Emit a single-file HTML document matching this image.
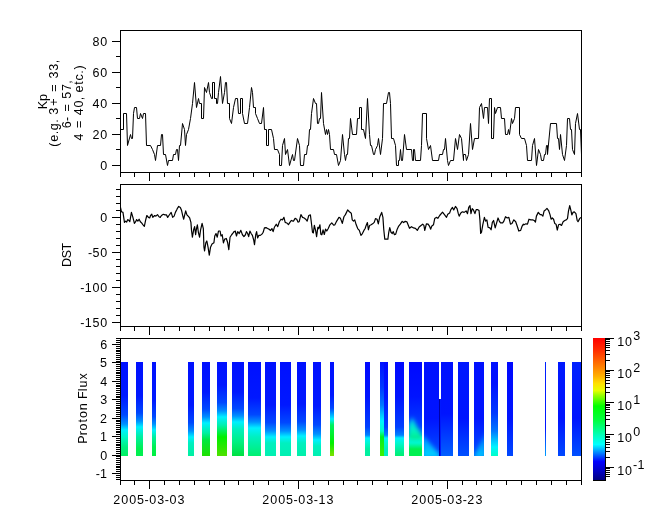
<!DOCTYPE html>
<html><head><meta charset="utf-8"><style>html,body{margin:0;padding:0;background:#fff;overflow:hidden}svg{will-change:transform}</style></head><body>
<svg width="665" height="523" viewBox="0 0 665 523" style="display:block">
<defs>
<linearGradient id="g0" x1="0" y1="0" x2="0" y2="1"><stop offset="0.000" stop-color="#0010ff"/><stop offset="0.362" stop-color="#0018ff"/><stop offset="0.561" stop-color="#0048ff"/><stop offset="0.660" stop-color="#0090ff"/><stop offset="0.723" stop-color="#00f0ff"/><stop offset="0.798" stop-color="#00f8c8"/><stop offset="0.904" stop-color="#00f080"/><stop offset="1.000" stop-color="#00f060"/></linearGradient>
<linearGradient id="g1" x1="0" y1="0" x2="0" y2="1"><stop offset="0.000" stop-color="#0010ff"/><stop offset="0.362" stop-color="#0018ff"/><stop offset="0.543" stop-color="#0048ff"/><stop offset="0.628" stop-color="#0090ff"/><stop offset="0.691" stop-color="#00f0ff"/><stop offset="0.798" stop-color="#00f0a0"/><stop offset="0.926" stop-color="#00f050"/><stop offset="1.000" stop-color="#00f050"/></linearGradient>
<linearGradient id="g2" x1="0" y1="0" x2="0" y2="1"><stop offset="0.000" stop-color="#0010ff"/><stop offset="0.404" stop-color="#0018ff"/><stop offset="0.580" stop-color="#0048ff"/><stop offset="0.660" stop-color="#0090ff"/><stop offset="0.723" stop-color="#00f0ff"/><stop offset="0.798" stop-color="#00f0a0"/><stop offset="0.904" stop-color="#00f050"/><stop offset="1.000" stop-color="#00f040"/></linearGradient>
<linearGradient id="g3" x1="0" y1="0" x2="0" y2="1"><stop offset="0.000" stop-color="#0010ff"/><stop offset="0.457" stop-color="#0018ff"/><stop offset="0.645" stop-color="#0048ff"/><stop offset="0.734" stop-color="#0090ff"/><stop offset="0.798" stop-color="#00f0ff"/><stop offset="0.862" stop-color="#00f0c0"/><stop offset="1.000" stop-color="#00f0a0"/></linearGradient>
<linearGradient id="g4" x1="0" y1="0" x2="0" y2="1"><stop offset="0.000" stop-color="#0010ff"/><stop offset="0.319" stop-color="#0018ff"/><stop offset="0.501" stop-color="#0048ff"/><stop offset="0.585" stop-color="#0090ff"/><stop offset="0.649" stop-color="#00f0ff"/><stop offset="0.755" stop-color="#00f0a0"/><stop offset="0.830" stop-color="#00e840"/><stop offset="1.000" stop-color="#20e000"/></linearGradient>
<linearGradient id="g5" x1="0" y1="0" x2="0" y2="1"><stop offset="0.000" stop-color="#0010ff"/><stop offset="0.245" stop-color="#0018ff"/><stop offset="0.432" stop-color="#0048ff"/><stop offset="0.521" stop-color="#0090ff"/><stop offset="0.585" stop-color="#00f0ff"/><stop offset="0.670" stop-color="#00f0b0"/><stop offset="0.798" stop-color="#00f000"/><stop offset="1.000" stop-color="#50e000"/></linearGradient>
<linearGradient id="g6" x1="0" y1="0" x2="0" y2="1"><stop offset="0.000" stop-color="#0010ff"/><stop offset="0.319" stop-color="#0018ff"/><stop offset="0.495" stop-color="#0048ff"/><stop offset="0.574" stop-color="#0090ff"/><stop offset="0.638" stop-color="#00f0ff"/><stop offset="0.713" stop-color="#00f0c0"/><stop offset="0.851" stop-color="#00f080"/><stop offset="1.000" stop-color="#00e040"/></linearGradient>
<linearGradient id="g7" x1="0" y1="0" x2="0" y2="1"><stop offset="0.000" stop-color="#0010ff"/><stop offset="0.383" stop-color="#0018ff"/><stop offset="0.559" stop-color="#0048ff"/><stop offset="0.638" stop-color="#0090ff"/><stop offset="0.702" stop-color="#00f0ff"/><stop offset="0.798" stop-color="#00f0c0"/><stop offset="1.000" stop-color="#00f070"/></linearGradient>
<linearGradient id="g8" x1="0" y1="0" x2="0" y2="1"><stop offset="0.000" stop-color="#0010ff"/><stop offset="0.457" stop-color="#0018ff"/><stop offset="0.645" stop-color="#0048ff"/><stop offset="0.734" stop-color="#0090ff"/><stop offset="0.798" stop-color="#00f0ff"/><stop offset="0.862" stop-color="#00f0c0"/><stop offset="1.000" stop-color="#00f0b0"/></linearGradient>
<linearGradient id="g9" x1="0" y1="0" x2="0" y2="1"><stop offset="0.000" stop-color="#0010ff"/><stop offset="0.457" stop-color="#0018ff"/><stop offset="0.645" stop-color="#0048ff"/><stop offset="0.734" stop-color="#0090ff"/><stop offset="0.798" stop-color="#00f0ff"/><stop offset="0.862" stop-color="#00f0c0"/><stop offset="1.000" stop-color="#00f0b0"/></linearGradient>
<linearGradient id="g10" x1="0" y1="0" x2="0" y2="1"><stop offset="0.000" stop-color="#0010ff"/><stop offset="0.447" stop-color="#0018ff"/><stop offset="0.634" stop-color="#0048ff"/><stop offset="0.723" stop-color="#0090ff"/><stop offset="0.787" stop-color="#00f0ff"/><stop offset="0.862" stop-color="#00f0c0"/><stop offset="1.000" stop-color="#00f0a8"/></linearGradient>
<linearGradient id="g11" x1="0" y1="0" x2="0" y2="1"><stop offset="0.000" stop-color="#0010ff"/><stop offset="0.468" stop-color="#0018ff"/><stop offset="0.667" stop-color="#0048ff"/><stop offset="0.766" stop-color="#0090ff"/><stop offset="0.830" stop-color="#00f0ff"/><stop offset="0.894" stop-color="#00f0c0"/><stop offset="1.000" stop-color="#00f0b0"/></linearGradient>
<linearGradient id="g12" x1="0" y1="0" x2="0" y2="1"><stop offset="0.000" stop-color="#0010ff"/><stop offset="0.351" stop-color="#0018ff"/><stop offset="0.491" stop-color="#0048ff"/><stop offset="0.543" stop-color="#0090ff"/><stop offset="0.606" stop-color="#00f0ff"/><stop offset="0.670" stop-color="#00f060"/><stop offset="0.862" stop-color="#00f000"/><stop offset="1.000" stop-color="#80e000"/></linearGradient>
<linearGradient id="g13" x1="0" y1="0" x2="0" y2="1"><stop offset="0.000" stop-color="#0008ff"/><stop offset="0.372" stop-color="#0014ff"/><stop offset="0.691" stop-color="#0040ff"/><stop offset="0.777" stop-color="#0080ff"/><stop offset="0.809" stop-color="#00f0ff"/><stop offset="0.862" stop-color="#00f8d0"/><stop offset="0.926" stop-color="#00f0a0"/><stop offset="1.000" stop-color="#00f0a0"/></linearGradient>
<linearGradient id="g14" x1="0" y1="0" x2="0" y2="1"><stop offset="0.000" stop-color="#0030ff"/><stop offset="0.000" stop-color="#0010ff"/><stop offset="0.266" stop-color="#0038ff"/><stop offset="0.457" stop-color="#0078ff"/><stop offset="0.564" stop-color="#00c8ff"/><stop offset="0.628" stop-color="#00f4ff"/><stop offset="0.734" stop-color="#00ffc8"/><stop offset="0.798" stop-color="#00f020"/><stop offset="1.000" stop-color="#40f000"/></linearGradient>
<linearGradient id="g15" x1="0" y1="0" x2="0" y2="1"><stop offset="0.000" stop-color="#0008ff"/><stop offset="0.372" stop-color="#0014ff"/><stop offset="0.691" stop-color="#0040ff"/><stop offset="0.777" stop-color="#0080ff"/><stop offset="0.809" stop-color="#00f0ff"/><stop offset="0.862" stop-color="#00f8d0"/><stop offset="0.926" stop-color="#00f0c0"/><stop offset="1.000" stop-color="#00f0c0"/></linearGradient>
<linearGradient id="g16" x1="0" y1="0" x2="0" y2="1"><stop offset="0.000" stop-color="#0008ff"/><stop offset="0.372" stop-color="#0014ff"/><stop offset="0.691" stop-color="#0040ff"/><stop offset="0.777" stop-color="#0080ff"/><stop offset="0.809" stop-color="#00f0ff"/><stop offset="0.862" stop-color="#00f8d0"/><stop offset="0.926" stop-color="#00f0a0"/><stop offset="1.000" stop-color="#00f070"/></linearGradient>
<linearGradient id="g17" x1="0" y1="0" x2="0" y2="1"><stop offset="0.000" stop-color="#0008ff"/><stop offset="0.372" stop-color="#0014ff"/><stop offset="0.691" stop-color="#0040ff"/><stop offset="0.777" stop-color="#0080ff"/><stop offset="0.809" stop-color="#00f0ff"/><stop offset="0.862" stop-color="#00f8d0"/><stop offset="0.926" stop-color="#00f050"/><stop offset="1.000" stop-color="#00f050"/></linearGradient>
<linearGradient id="g18" x1="0" y1="0" x2="0" y2="1"><stop offset="0.000" stop-color="#0010ff"/><stop offset="0.600" stop-color="#0014ff"/><stop offset="1.000" stop-color="#0050ff"/></linearGradient>
<linearGradient id="g19" x1="0" y1="0" x2="0" y2="1"><stop offset="0.000" stop-color="#0010ff"/><stop offset="0.550" stop-color="#0014ff"/><stop offset="1.000" stop-color="#0060ff"/></linearGradient>
<linearGradient id="g20" x1="0" y1="0" x2="0" y2="1"><stop offset="0.000" stop-color="#0018ff"/><stop offset="0.600" stop-color="#0014ff"/><stop offset="1.000" stop-color="#0050ff"/></linearGradient>
<linearGradient id="g21" x1="0" y1="0" x2="0" y2="1"><stop offset="0.000" stop-color="#0010ff"/><stop offset="0.600" stop-color="#0014ff"/><stop offset="1.000" stop-color="#0050ff"/></linearGradient>
<linearGradient id="g22" x1="0" y1="0" x2="0" y2="1"><stop offset="0.000" stop-color="#0010ff"/><stop offset="0.223" stop-color="#0010ff"/><stop offset="0.543" stop-color="#0038ff"/><stop offset="0.734" stop-color="#0078ff"/><stop offset="0.840" stop-color="#00c8ff"/><stop offset="0.904" stop-color="#00f4ff"/><stop offset="1.000" stop-color="#00ffc8"/><stop offset="1.000" stop-color="#00e8ff"/></linearGradient>
<linearGradient id="g23" x1="0" y1="0" x2="0" y2="1"><stop offset="0.000" stop-color="#0008ff"/><stop offset="0.600" stop-color="#0014ff"/><stop offset="1.000" stop-color="#0048ff"/></linearGradient>
<linearGradient id="g24" x1="0" y1="0" x2="0" y2="1"><stop offset="0.000" stop-color="#0020ff"/><stop offset="0.700" stop-color="#0014ff"/><stop offset="1.000" stop-color="#00a0ff"/></linearGradient>
<linearGradient id="g25" x1="0" y1="0" x2="0" y2="1"><stop offset="0.000" stop-color="#0018ff"/><stop offset="0.600" stop-color="#0014ff"/><stop offset="1.000" stop-color="#0048ff"/></linearGradient>
<linearGradient id="g26" x1="0" y1="0" x2="0" y2="1"><stop offset="0.000" stop-color="#0020ff"/><stop offset="0.600" stop-color="#0014ff"/><stop offset="1.000" stop-color="#0050ff"/></linearGradient>
<linearGradient id="cb" x1="0" y1="0" x2="0" y2="1"><stop offset="0.000" stop-color="#ff0000"/><stop offset="0.090" stop-color="#ff3000"/><stop offset="0.180" stop-color="#ff7000"/><stop offset="0.270" stop-color="#ffb000"/><stop offset="0.320" stop-color="#ffe000"/><stop offset="0.370" stop-color="#e8ff00"/><stop offset="0.400" stop-color="#a0ff00"/><stop offset="0.480" stop-color="#00ff00"/><stop offset="0.580" stop-color="#00ff40"/><stop offset="0.690" stop-color="#00ffc0"/><stop offset="0.750" stop-color="#00ffff"/><stop offset="0.810" stop-color="#0080ff"/><stop offset="0.870" stop-color="#0000ff"/><stop offset="0.940" stop-color="#0000c0"/><stop offset="1.000" stop-color="#000080"/></linearGradient>
</defs>
<rect width="665" height="523" fill="#fff"/>
<g font-family="Liberation Sans, sans-serif" font-size="12.5" fill="#000">
<rect x="121" y="362" width="7" height="94" fill="url(#g0)"/>
<rect x="136" y="362" width="7" height="94" fill="url(#g1)"/>
<rect x="152" y="362" width="4" height="94" fill="url(#g2)"/>
<rect x="188" y="362" width="6" height="94" fill="url(#g3)"/>
<rect x="202" y="362" width="8" height="94" fill="url(#g4)"/>
<rect x="217" y="362" width="10" height="94" fill="url(#g5)"/>
<rect x="232" y="362" width="12" height="94" fill="url(#g6)"/>
<rect x="248" y="362" width="13" height="94" fill="url(#g7)"/>
<rect x="265" y="362" width="11" height="94" fill="url(#g8)"/>
<rect x="280" y="362" width="11" height="94" fill="url(#g9)"/>
<rect x="297" y="362" width="9" height="94" fill="url(#g10)"/>
<rect x="313" y="362" width="8" height="94" fill="url(#g11)"/>
<rect x="330" y="362" width="4" height="94" fill="url(#g12)"/>
<rect x="365" y="362" width="5" height="94" fill="url(#g13)"/>
<rect x="380" y="362" width="4" height="94" fill="url(#g14)"/>
<rect x="384" y="362" width="4" height="94" fill="url(#g15)"/>
<rect x="395" y="362" width="9" height="94" fill="url(#g16)"/>
<rect x="409" y="362" width="13" height="94" fill="url(#g17)"/>
<rect x="424" y="362" width="15" height="94" fill="url(#g18)"/>
<rect x="441" y="362" width="12" height="94" fill="url(#g19)"/>
<rect x="458" y="362" width="11" height="94" fill="url(#g20)"/>
<rect x="474" y="362" width="10" height="94" fill="url(#g21)"/>
<rect x="491" y="362" width="7" height="94" fill="url(#g22)"/>
<rect x="507" y="362" width="6" height="94" fill="url(#g23)"/>
<rect x="545" y="362" width="1" height="94" fill="url(#g24)"/>
<rect x="558" y="362" width="7" height="94" fill="url(#g25)"/>
<rect x="572" y="362" width="9" height="94" fill="url(#g26)"/>
<filter id="bl" x="-20%" y="-20%" width="140%" height="140%"><feGaussianBlur stdDeviation="2"/></filter>
<clipPath id="c0"><rect x="409" y="362" width="13" height="94"/></clipPath>
<linearGradient id="p0" gradientUnits="userSpaceOnUse" x1="0" y1="417" x2="0" y2="440"><stop offset="0.000" stop-color="#00d0ff"/><stop offset="0.600" stop-color="#00f0c0"/><stop offset="1.000" stop-color="#00f080"/></linearGradient>
<g clip-path="url(#c0)"><polygon filter="url(#bl)" points="408,426 412,417 424,440 408,440" fill="url(#p0)"/></g>
<clipPath id="c1"><rect x="424" y="362" width="15" height="94"/></clipPath>
<linearGradient id="p1" gradientUnits="userSpaceOnUse" x1="0" y1="434" x2="0" y2="458"><stop offset="0.000" stop-color="#0090ff"/><stop offset="1.000" stop-color="#00d8ff"/></linearGradient>
<g clip-path="url(#c1)"><polygon filter="url(#bl)" points="422,434 440,455 440,458 422,458" fill="url(#p1)"/></g>
<clipPath id="c2"><rect x="474" y="362" width="10" height="94"/></clipPath>
<linearGradient id="p2" gradientUnits="userSpaceOnUse" x1="0" y1="432" x2="0" y2="458"><stop offset="0.000" stop-color="#0070ff"/><stop offset="1.000" stop-color="#00c8ff"/></linearGradient>
<g clip-path="url(#c2)"><polygon filter="url(#bl)" points="486,432 486,458 473,458" fill="url(#p2)"/></g>
<rect x="439" y="399" width="1" height="57" fill="#0000a8"/>
<rect x="440" y="399" width="1" height="57" fill="#0018ff"/>
<polyline points="120.50,129.50 123.50,129.50 123.50,113.50 126.50,113.50 127.50,145.50 130.50,134.50 131.50,138.50 132.50,138.50 133.50,113.50 134.50,107.50 136.50,107.50 137.50,118.50 139.50,118.50 140.50,113.50 142.50,118.50 143.50,113.50 145.50,113.50 146.50,145.50 150.50,145.50 152.50,149.50 154.50,154.50 155.50,160.50 157.50,145.50 160.50,145.50 161.50,134.50 162.50,134.50 163.50,154.50 165.50,154.50 167.50,165.50 168.50,160.50 172.50,160.50 173.50,154.50 175.50,154.50 176.50,149.50 177.50,149.50 178.50,160.50 179.50,145.50 180.50,145.50 182.50,123.50 184.50,129.50 185.50,145.50 186.50,134.50 188.50,129.50 190.50,118.50 192.50,103.50 194.50,82.50 196.50,107.50 198.50,98.50 199.50,103.50 201.50,103.50 201.50,118.50 203.50,118.50 204.50,87.50 206.50,92.50 208.50,82.50 209.50,92.50 211.50,98.50 212.50,98.50 212.50,82.50 214.50,82.50 214.50,98.50 216.50,98.50 216.50,103.50 217.50,103.50 218.50,92.50 220.50,76.50 222.50,103.50 224.50,92.50 225.50,82.50 226.50,82.50 227.50,103.50 229.50,103.50 229.50,118.50 231.50,123.50 233.50,107.50 235.50,98.50 237.50,98.50 238.50,113.50 240.50,113.50 240.50,98.50 242.50,98.50 242.50,113.50 244.50,123.50 247.50,123.50 249.50,107.50 251.50,87.50 252.50,92.50 253.50,107.50 255.50,107.50 255.50,113.50 257.50,118.50 259.50,123.50 261.50,123.50 263.50,107.50 264.50,129.50 266.50,129.50 266.50,145.50 268.50,145.50 268.50,129.50 271.50,129.50 273.50,138.50 274.50,149.50 277.50,149.50 279.50,154.50 279.50,165.50 281.50,165.50 282.50,145.50 284.50,138.50 285.50,154.50 287.50,149.50 289.50,165.50 292.50,154.50 293.50,160.50 294.50,160.50 297.50,138.50 299.50,145.50 300.50,165.50 303.50,165.50 304.50,154.50 306.50,154.50 307.50,145.50 308.50,145.50 309.50,129.50 310.50,129.50 311.50,113.50 313.50,98.50 315.50,103.50 316.50,103.50 317.50,123.50 318.50,123.50 319.50,118.50 320.50,118.50 321.50,92.50 321.50,92.50 323.50,123.50 325.50,134.50 326.50,129.50 327.50,134.50 328.50,129.50 329.50,134.50 330.50,149.50 333.50,149.50 334.50,154.50 336.50,154.50 338.50,165.50 340.50,160.50 342.50,134.50 344.50,154.50 345.50,160.50 346.50,154.50 347.50,154.50 348.50,138.50 349.50,138.50 350.50,118.50 352.50,134.50 356.50,134.50 357.50,118.50 359.50,118.50 359.50,107.50 361.50,107.50 361.50,129.50 363.50,129.50 365.50,138.50 367.50,98.50 369.50,134.50 370.50,145.50 371.50,145.50 373.50,154.50 374.50,154.50 375.50,149.50 377.50,145.50 378.50,138.50 380.50,154.50 382.50,138.50 383.50,103.50 386.50,103.50 388.50,92.50 389.50,92.50 390.50,103.50 391.50,138.50 393.50,138.50 395.50,145.50 396.50,165.50 398.50,165.50 398.50,160.50 399.50,160.50 400.50,149.50 401.50,160.50 402.50,160.50 404.50,134.50 406.50,149.50 411.50,149.50 412.50,160.50 413.50,160.50 413.50,149.50 414.50,149.50 415.50,160.50 420.50,160.50 421.50,145.50 422.50,113.50 426.50,113.50 426.50,138.50 428.50,149.50 430.50,145.50 432.50,160.50 438.50,160.50 439.50,154.50 442.50,154.50 443.50,149.50 444.50,149.50 445.50,138.50 447.50,160.50 448.50,165.50 450.50,160.50 453.50,160.50 455.50,138.50 457.50,149.50 459.50,134.50 461.50,138.50 463.50,160.50 463.50,154.50 465.50,154.50 466.50,160.50 468.50,154.50 470.50,123.50 472.50,149.50 474.50,138.50 478.50,138.50 479.50,107.50 481.50,103.50 483.50,118.50 484.50,107.50 487.50,107.50 488.50,123.50 489.50,98.50 491.50,98.50 491.50,138.50 493.50,138.50 494.50,107.50 495.50,113.50 497.50,107.50 500.50,107.50 501.50,118.50 504.50,118.50 505.50,134.50 507.50,134.50 508.50,129.50 509.50,134.50 511.50,118.50 512.50,123.50 514.50,118.50 515.50,107.50 519.50,107.50 519.50,134.50 521.50,138.50 524.50,138.50 526.50,145.50 527.50,160.50 531.50,160.50 532.50,145.50 534.50,138.50 536.50,165.50 538.50,149.50 540.50,154.50 541.50,160.50 543.50,160.50 544.50,154.50 545.50,154.50 546.50,145.50 547.50,145.50 547.50,154.50 550.50,123.50 556.50,123.50 557.50,138.50 558.50,138.50 559.50,149.50 560.50,134.50 562.50,154.50 564.50,160.50 566.50,145.50 567.50,118.50 569.50,118.50 570.50,129.50 571.50,129.50 572.50,149.50 574.50,154.50 575.50,123.50 577.50,113.50 579.50,129.50 580.50,129.50 581.50,154.50" fill="none" stroke="#000" stroke-width="1" stroke-linejoin="miter"/>
<polyline points="120.48,207.42 121.48,211.77 122.97,212.39 124.46,222.33 125.70,221.09 126.70,222.08 127.69,219.60 128.93,220.47 129.80,221.71 131.42,212.39 132.91,217.36 134.40,223.32 135.64,221.71 136.63,219.60 137.88,221.09 139.12,219.22 140.36,221.71 141.60,222.95 142.84,224.57 144.34,226.30 145.58,220.47 146.82,215.50 148.43,217.36 149.68,217.98 150.55,215.50 151.79,214.25 152.78,217.36 154.65,215.50 155.89,216.12 157.50,214.63 158.99,216.74 160.24,217.36 161.48,215.50 163.34,214.25 164.96,214.88 166.45,214.88 167.69,217.36 168.93,215.50 171.17,212.39 172.66,217.36 174.15,216.12 175.39,212.39 177.01,209.29 177.24,208.66 178.73,206.43 180.35,207.42 181.59,210.53 182.83,216.12 183.70,219.22 184.70,214.88 185.69,210.90 186.93,214.88 188.17,216.12 189.66,217.98 190.91,222.33 191.53,230.40 192.40,237.24 193.64,229.78 194.63,226.68 195.63,234.75 196.50,228.54 197.37,224.81 198.36,232.27 199.60,237.24 200.60,229.78 202.09,223.32 203.33,228.54 203.95,247.17 204.57,250.90 205.81,242.83 206.81,240.96 208.05,247.17 209.29,255.25 210.53,247.17 212.02,244.07 213.89,242.83 214.76,235.99 216.00,233.51 217.24,237.24 218.48,231.02 220.10,231.02 220.97,235.99 222.21,234.75 223.45,242.83 224.70,239.10 226.31,238.48 227.55,242.20 228.80,249.66 230.04,237.24 231.65,234.75 233.14,232.89 234.00,231.65 234.63,231.65 235.24,231.02 236.48,235.99 237.73,231.65 239.22,233.51 240.83,230.40 242.45,234.75 243.94,236.61 245.43,234.75 246.42,231.65 247.66,233.51 248.66,236.61 249.90,231.02 251.14,233.51 252.39,235.37 253.63,239.72 254.50,244.69 255.74,234.75 256.61,231.65 257.60,237.86 258.84,235.37 260.34,235.37 261.95,234.13 263.19,232.27 264.43,227.92 266.05,227.55 267.54,228.54 269.03,229.16 270.65,230.40 271.89,228.54 273.13,231.65 274.37,227.30 276.24,224.19 277.73,226.68 279.34,221.71 280.96,219.22 282.45,219.84 283.94,217.36 285.18,222.33 286.80,222.95 288.41,224.57 289.90,222.33 291.39,220.47 293.01,221.09 293.49,221.09 295.11,218.35 296.72,219.22 297.96,222.08 299.20,221.71 300.94,214.63 302.56,217.36 304.17,217.98 305.66,219.22 307.16,221.09 308.77,215.50 310.39,214.88 311.25,221.71 312.50,232.27 313.37,232.89 314.36,225.43 315.60,230.40 316.60,236.61 317.84,227.30 318.71,228.54 319.95,224.81 320.82,234.13 321.81,234.75 323.06,229.78 324.30,234.50 325.54,229.16 326.78,231.02 328.27,228.54 329.89,224.81 331.75,222.95 333.61,225.06 334.86,224.81 336.72,221.09 338.96,217.36 340.45,218.35 342.31,223.32 343.93,216.74 345.42,214.63 347.65,209.91 349.39,211.77 351.01,213.01 351.24,213.01 352.24,219.84 353.48,221.09 354.72,219.84 356.21,224.81 357.70,228.54 359.32,230.40 360.93,235.37 362.42,233.51 363.91,230.40 365.16,228.54 366.15,225.43 367.39,222.58 368.39,229.78 369.63,225.43 371.12,224.81 372.61,223.82 374.22,222.33 375.47,218.60 377.08,219.22 378.32,223.82 379.81,216.74 381.68,212.39 382.92,217.36 383.79,229.78 384.78,239.10 386.27,239.10 387.89,239.10 388.76,232.27 389.75,227.55 390.99,232.27 392.24,233.51 393.23,231.65 394.47,234.75 395.71,234.13 397.20,229.16 398.70,226.06 400.31,224.19 402.17,221.34 403.66,222.58 405.28,221.34 406.89,221.71 408.39,225.43 409.49,228.29 411.48,226.68 413.59,227.92 415.45,228.29 417.32,230.40 419.18,227.05 421.04,225.43 422.66,224.19 423.90,225.43 424.77,230.40 426.39,223.82 428.12,224.19 429.74,226.68 430.61,229.16 431.85,226.06 433.47,224.81 434.71,218.60 436.32,217.36 437.81,218.35 439.68,215.50 442.53,212.14 444.65,214.88 446.51,217.36 447.75,214.25 449.61,213.01 450.86,209.66 452.47,207.42 453.71,209.91 455.45,206.43 457.07,208.66 458.31,213.63 459.18,216.12 460.80,213.01 462.41,211.77 464.15,212.39 466.14,210.90 467.49,213.63 468.73,207.42 469.98,205.56 470.97,213.63 472.21,208.66 473.45,209.91 474.94,213.63 476.19,209.66 477.80,209.66 479.04,210.53 479.91,219.84 480.66,233.51 481.53,232.27 482.77,224.81 484.39,217.36 485.63,221.09 486.87,219.84 488.11,227.30 489.85,227.92 491.09,229.78 492.34,222.33 493.58,220.47 495.19,227.92 496.43,223.57 498.05,217.98 499.29,221.09 500.53,222.95 502.65,222.95 503.89,221.09 505.50,216.74 507.24,217.98 508.86,217.36 510.47,224.19 511.96,223.57 513.83,219.84 515.69,221.71 517.18,226.06 518.80,231.02 520.66,230.40 522.15,226.06 523.39,224.19 524.00,224.81 525.01,224.19 525.86,223.82 527.48,224.19 528.97,219.22 530.83,219.84 532.70,219.84 534.19,220.47 535.43,222.08 536.42,216.12 538.29,212.39 540.15,214.63 541.39,214.63 542.88,216.12 544.12,210.90 545.74,209.66 546.98,208.42 548.60,210.53 550.09,214.88 551.08,219.22 552.32,217.98 553.57,219.22 554.81,223.57 556.05,224.19 557.29,230.03 558.53,224.81 560.02,224.19 561.52,225.43 563.13,221.71 564.75,220.47 566.24,219.84 567.48,218.60 568.47,211.15 569.71,205.56 570.96,210.53 571.83,214.88 573.07,212.39 574.31,211.77 575.93,213.63 577.17,220.47 578.04,221.71 579.65,218.60 580.89,217.36" fill="none" stroke="#000" stroke-width="1.2" stroke-linejoin="round"/>
<g shape-rendering="crispEdges">
<rect x="120.5" y="30.5" width="461" height="142" fill="none" stroke="#000" stroke-width="1"/>
<line x1="120.5" y1="173" x2="120.5" y2="177" stroke="#000" stroke-width="1"/>
<line x1="134.5" y1="173" x2="134.5" y2="177" stroke="#000" stroke-width="1"/>
<line x1="149.5" y1="173" x2="149.5" y2="181" stroke="#000" stroke-width="1"/>
<line x1="164.5" y1="173" x2="164.5" y2="177" stroke="#000" stroke-width="1"/>
<line x1="179.5" y1="173" x2="179.5" y2="177" stroke="#000" stroke-width="1"/>
<line x1="194.5" y1="173" x2="194.5" y2="177" stroke="#000" stroke-width="1"/>
<line x1="209.5" y1="173" x2="209.5" y2="177" stroke="#000" stroke-width="1"/>
<line x1="224.5" y1="173" x2="224.5" y2="177" stroke="#000" stroke-width="1"/>
<line x1="238.5" y1="173" x2="238.5" y2="177" stroke="#000" stroke-width="1"/>
<line x1="253.5" y1="173" x2="253.5" y2="177" stroke="#000" stroke-width="1"/>
<line x1="268.5" y1="173" x2="268.5" y2="177" stroke="#000" stroke-width="1"/>
<line x1="283.5" y1="173" x2="283.5" y2="177" stroke="#000" stroke-width="1"/>
<line x1="298.5" y1="173" x2="298.5" y2="181" stroke="#000" stroke-width="1"/>
<line x1="313.5" y1="173" x2="313.5" y2="177" stroke="#000" stroke-width="1"/>
<line x1="328.5" y1="173" x2="328.5" y2="177" stroke="#000" stroke-width="1"/>
<line x1="343.5" y1="173" x2="343.5" y2="177" stroke="#000" stroke-width="1"/>
<line x1="357.5" y1="173" x2="357.5" y2="177" stroke="#000" stroke-width="1"/>
<line x1="372.5" y1="173" x2="372.5" y2="177" stroke="#000" stroke-width="1"/>
<line x1="387.5" y1="173" x2="387.5" y2="177" stroke="#000" stroke-width="1"/>
<line x1="402.5" y1="173" x2="402.5" y2="177" stroke="#000" stroke-width="1"/>
<line x1="417.5" y1="173" x2="417.5" y2="177" stroke="#000" stroke-width="1"/>
<line x1="432.5" y1="173" x2="432.5" y2="177" stroke="#000" stroke-width="1"/>
<line x1="447.5" y1="173" x2="447.5" y2="181" stroke="#000" stroke-width="1"/>
<line x1="462.5" y1="173" x2="462.5" y2="177" stroke="#000" stroke-width="1"/>
<line x1="476.5" y1="173" x2="476.5" y2="177" stroke="#000" stroke-width="1"/>
<line x1="491.5" y1="173" x2="491.5" y2="177" stroke="#000" stroke-width="1"/>
<line x1="506.5" y1="173" x2="506.5" y2="177" stroke="#000" stroke-width="1"/>
<line x1="521.5" y1="173" x2="521.5" y2="177" stroke="#000" stroke-width="1"/>
<line x1="536.5" y1="173" x2="536.5" y2="177" stroke="#000" stroke-width="1"/>
<line x1="551.5" y1="173" x2="551.5" y2="177" stroke="#000" stroke-width="1"/>
<line x1="566.5" y1="173" x2="566.5" y2="177" stroke="#000" stroke-width="1"/>
<line x1="581.5" y1="173" x2="581.5" y2="177" stroke="#000" stroke-width="1"/>
<rect x="120.5" y="184.5" width="461" height="142" fill="none" stroke="#000" stroke-width="1"/>
<line x1="120.5" y1="327" x2="120.5" y2="331" stroke="#000" stroke-width="1"/>
<line x1="134.5" y1="327" x2="134.5" y2="331" stroke="#000" stroke-width="1"/>
<line x1="149.5" y1="327" x2="149.5" y2="335" stroke="#000" stroke-width="1"/>
<line x1="164.5" y1="327" x2="164.5" y2="331" stroke="#000" stroke-width="1"/>
<line x1="179.5" y1="327" x2="179.5" y2="331" stroke="#000" stroke-width="1"/>
<line x1="194.5" y1="327" x2="194.5" y2="331" stroke="#000" stroke-width="1"/>
<line x1="209.5" y1="327" x2="209.5" y2="331" stroke="#000" stroke-width="1"/>
<line x1="224.5" y1="327" x2="224.5" y2="331" stroke="#000" stroke-width="1"/>
<line x1="238.5" y1="327" x2="238.5" y2="331" stroke="#000" stroke-width="1"/>
<line x1="253.5" y1="327" x2="253.5" y2="331" stroke="#000" stroke-width="1"/>
<line x1="268.5" y1="327" x2="268.5" y2="331" stroke="#000" stroke-width="1"/>
<line x1="283.5" y1="327" x2="283.5" y2="331" stroke="#000" stroke-width="1"/>
<line x1="298.5" y1="327" x2="298.5" y2="335" stroke="#000" stroke-width="1"/>
<line x1="313.5" y1="327" x2="313.5" y2="331" stroke="#000" stroke-width="1"/>
<line x1="328.5" y1="327" x2="328.5" y2="331" stroke="#000" stroke-width="1"/>
<line x1="343.5" y1="327" x2="343.5" y2="331" stroke="#000" stroke-width="1"/>
<line x1="357.5" y1="327" x2="357.5" y2="331" stroke="#000" stroke-width="1"/>
<line x1="372.5" y1="327" x2="372.5" y2="331" stroke="#000" stroke-width="1"/>
<line x1="387.5" y1="327" x2="387.5" y2="331" stroke="#000" stroke-width="1"/>
<line x1="402.5" y1="327" x2="402.5" y2="331" stroke="#000" stroke-width="1"/>
<line x1="417.5" y1="327" x2="417.5" y2="331" stroke="#000" stroke-width="1"/>
<line x1="432.5" y1="327" x2="432.5" y2="331" stroke="#000" stroke-width="1"/>
<line x1="447.5" y1="327" x2="447.5" y2="335" stroke="#000" stroke-width="1"/>
<line x1="462.5" y1="327" x2="462.5" y2="331" stroke="#000" stroke-width="1"/>
<line x1="476.5" y1="327" x2="476.5" y2="331" stroke="#000" stroke-width="1"/>
<line x1="491.5" y1="327" x2="491.5" y2="331" stroke="#000" stroke-width="1"/>
<line x1="506.5" y1="327" x2="506.5" y2="331" stroke="#000" stroke-width="1"/>
<line x1="521.5" y1="327" x2="521.5" y2="331" stroke="#000" stroke-width="1"/>
<line x1="536.5" y1="327" x2="536.5" y2="331" stroke="#000" stroke-width="1"/>
<line x1="551.5" y1="327" x2="551.5" y2="331" stroke="#000" stroke-width="1"/>
<line x1="566.5" y1="327" x2="566.5" y2="331" stroke="#000" stroke-width="1"/>
<line x1="581.5" y1="327" x2="581.5" y2="331" stroke="#000" stroke-width="1"/>
<rect x="120.5" y="338.5" width="461" height="142" fill="none" stroke="#000" stroke-width="1"/>
<line x1="120.5" y1="481" x2="120.5" y2="485" stroke="#000" stroke-width="1"/>
<line x1="134.5" y1="481" x2="134.5" y2="485" stroke="#000" stroke-width="1"/>
<line x1="149.5" y1="481" x2="149.5" y2="489" stroke="#000" stroke-width="1"/>
<text x="113.23 121.26 129.13 136.95 144.62 149.32 157.19 164.82 169.52 177.39" y="504.00" >2005-03-03</text>
<line x1="164.5" y1="481" x2="164.5" y2="485" stroke="#000" stroke-width="1"/>
<line x1="179.5" y1="481" x2="179.5" y2="485" stroke="#000" stroke-width="1"/>
<line x1="194.5" y1="481" x2="194.5" y2="485" stroke="#000" stroke-width="1"/>
<line x1="209.5" y1="481" x2="209.5" y2="485" stroke="#000" stroke-width="1"/>
<line x1="224.5" y1="481" x2="224.5" y2="485" stroke="#000" stroke-width="1"/>
<line x1="238.5" y1="481" x2="238.5" y2="485" stroke="#000" stroke-width="1"/>
<line x1="253.5" y1="481" x2="253.5" y2="485" stroke="#000" stroke-width="1"/>
<line x1="268.5" y1="481" x2="268.5" y2="485" stroke="#000" stroke-width="1"/>
<line x1="283.5" y1="481" x2="283.5" y2="485" stroke="#000" stroke-width="1"/>
<line x1="298.5" y1="481" x2="298.5" y2="489" stroke="#000" stroke-width="1"/>
<text x="262.23 270.26 278.13 285.95 293.62 298.32 306.19 313.82 318.47 326.39" y="504.00" >2005-03-13</text>
<line x1="313.5" y1="481" x2="313.5" y2="485" stroke="#000" stroke-width="1"/>
<line x1="328.5" y1="481" x2="328.5" y2="485" stroke="#000" stroke-width="1"/>
<line x1="343.5" y1="481" x2="343.5" y2="485" stroke="#000" stroke-width="1"/>
<line x1="357.5" y1="481" x2="357.5" y2="485" stroke="#000" stroke-width="1"/>
<line x1="372.5" y1="481" x2="372.5" y2="485" stroke="#000" stroke-width="1"/>
<line x1="387.5" y1="481" x2="387.5" y2="485" stroke="#000" stroke-width="1"/>
<line x1="402.5" y1="481" x2="402.5" y2="485" stroke="#000" stroke-width="1"/>
<line x1="417.5" y1="481" x2="417.5" y2="485" stroke="#000" stroke-width="1"/>
<line x1="432.5" y1="481" x2="432.5" y2="485" stroke="#000" stroke-width="1"/>
<line x1="447.5" y1="481" x2="447.5" y2="489" stroke="#000" stroke-width="1"/>
<text x="411.23 419.26 427.13 434.95 442.62 447.32 455.19 462.82 467.37 475.39" y="504.00" >2005-03-23</text>
<line x1="462.5" y1="481" x2="462.5" y2="485" stroke="#000" stroke-width="1"/>
<line x1="476.5" y1="481" x2="476.5" y2="485" stroke="#000" stroke-width="1"/>
<line x1="491.5" y1="481" x2="491.5" y2="485" stroke="#000" stroke-width="1"/>
<line x1="506.5" y1="481" x2="506.5" y2="485" stroke="#000" stroke-width="1"/>
<line x1="521.5" y1="481" x2="521.5" y2="485" stroke="#000" stroke-width="1"/>
<line x1="536.5" y1="481" x2="536.5" y2="485" stroke="#000" stroke-width="1"/>
<line x1="551.5" y1="481" x2="551.5" y2="485" stroke="#000" stroke-width="1"/>
<line x1="566.5" y1="481" x2="566.5" y2="485" stroke="#000" stroke-width="1"/>
<line x1="581.5" y1="481" x2="581.5" y2="485" stroke="#000" stroke-width="1"/>
<line x1="116" y1="149.5" x2="120" y2="149.5" stroke="#000" stroke-width="1"/>
<line x1="116" y1="118.5" x2="120" y2="118.5" stroke="#000" stroke-width="1"/>
<line x1="116" y1="87.5" x2="120" y2="87.5" stroke="#000" stroke-width="1"/>
<line x1="116" y1="56.5" x2="120" y2="56.5" stroke="#000" stroke-width="1"/>
<line x1="112" y1="165.5" x2="120" y2="165.5" stroke="#000" stroke-width="1"/>
<text x="100.17" y="169.90" >0</text>
<line x1="112" y1="134.5" x2="120" y2="134.5" stroke="#000" stroke-width="1"/>
<text x="92.38 100.17" y="138.90" >20</text>
<line x1="112" y1="103.5" x2="120" y2="103.5" stroke="#000" stroke-width="1"/>
<text x="92.58 100.17" y="107.90" >40</text>
<line x1="112" y1="72.5" x2="120" y2="72.5" stroke="#000" stroke-width="1"/>
<text x="92.53 100.17" y="76.90" >60</text>
<line x1="112" y1="41.5" x2="120" y2="41.5" stroke="#000" stroke-width="1"/>
<text x="92.53 100.17" y="45.90" >80</text>
<line x1="116" y1="189.5" x2="120" y2="189.5" stroke="#000" stroke-width="1"/>
<line x1="116" y1="196.5" x2="120" y2="196.5" stroke="#000" stroke-width="1"/>
<line x1="116" y1="203.5" x2="120" y2="203.5" stroke="#000" stroke-width="1"/>
<line x1="116" y1="210.5" x2="120" y2="210.5" stroke="#000" stroke-width="1"/>
<line x1="116" y1="224.5" x2="120" y2="224.5" stroke="#000" stroke-width="1"/>
<line x1="116" y1="231.5" x2="120" y2="231.5" stroke="#000" stroke-width="1"/>
<line x1="116" y1="238.5" x2="120" y2="238.5" stroke="#000" stroke-width="1"/>
<line x1="116" y1="245.5" x2="120" y2="245.5" stroke="#000" stroke-width="1"/>
<line x1="116" y1="259.5" x2="120" y2="259.5" stroke="#000" stroke-width="1"/>
<line x1="116" y1="266.5" x2="120" y2="266.5" stroke="#000" stroke-width="1"/>
<line x1="116" y1="273.5" x2="120" y2="273.5" stroke="#000" stroke-width="1"/>
<line x1="116" y1="280.5" x2="120" y2="280.5" stroke="#000" stroke-width="1"/>
<line x1="116" y1="294.5" x2="120" y2="294.5" stroke="#000" stroke-width="1"/>
<line x1="116" y1="301.5" x2="120" y2="301.5" stroke="#000" stroke-width="1"/>
<line x1="116" y1="308.5" x2="120" y2="308.5" stroke="#000" stroke-width="1"/>
<line x1="116" y1="315.5" x2="120" y2="315.5" stroke="#000" stroke-width="1"/>
<line x1="112" y1="217.5" x2="120" y2="217.5" stroke="#000" stroke-width="1"/>
<text x="100.17" y="221.90" >0</text>
<line x1="112" y1="252.5" x2="120" y2="252.5" stroke="#000" stroke-width="1"/>
<text x="88.01 92.48 100.17" y="256.90" >-50</text>
<line x1="112" y1="287.5" x2="120" y2="287.5" stroke="#000" stroke-width="1"/>
<text x="80.37 84.83 92.53 100.17" y="291.90" >-100</text>
<line x1="112" y1="322.5" x2="120" y2="322.5" stroke="#000" stroke-width="1"/>
<text x="80.37 84.83 92.48 100.17" y="326.90" >-150</text>
<line x1="116" y1="479.5" x2="120" y2="479.5" stroke="#000" stroke-width="1"/>
<line x1="116" y1="477.5" x2="120" y2="477.5" stroke="#000" stroke-width="1"/>
<line x1="116" y1="475.5" x2="120" y2="475.5" stroke="#000" stroke-width="1"/>
<line x1="116" y1="471.5" x2="120" y2="471.5" stroke="#000" stroke-width="1"/>
<line x1="116" y1="469.5" x2="120" y2="469.5" stroke="#000" stroke-width="1"/>
<line x1="116" y1="467.5" x2="120" y2="467.5" stroke="#000" stroke-width="1"/>
<line x1="116" y1="466.5" x2="120" y2="466.5" stroke="#000" stroke-width="1"/>
<line x1="116" y1="464.5" x2="120" y2="464.5" stroke="#000" stroke-width="1"/>
<line x1="116" y1="462.5" x2="120" y2="462.5" stroke="#000" stroke-width="1"/>
<line x1="116" y1="460.5" x2="120" y2="460.5" stroke="#000" stroke-width="1"/>
<line x1="116" y1="458.5" x2="120" y2="458.5" stroke="#000" stroke-width="1"/>
<line x1="116" y1="456.5" x2="120" y2="456.5" stroke="#000" stroke-width="1"/>
<line x1="116" y1="453.5" x2="120" y2="453.5" stroke="#000" stroke-width="1"/>
<line x1="116" y1="451.5" x2="120" y2="451.5" stroke="#000" stroke-width="1"/>
<line x1="116" y1="449.5" x2="120" y2="449.5" stroke="#000" stroke-width="1"/>
<line x1="116" y1="447.5" x2="120" y2="447.5" stroke="#000" stroke-width="1"/>
<line x1="116" y1="445.5" x2="120" y2="445.5" stroke="#000" stroke-width="1"/>
<line x1="116" y1="444.5" x2="120" y2="444.5" stroke="#000" stroke-width="1"/>
<line x1="116" y1="442.5" x2="120" y2="442.5" stroke="#000" stroke-width="1"/>
<line x1="116" y1="440.5" x2="120" y2="440.5" stroke="#000" stroke-width="1"/>
<line x1="116" y1="438.5" x2="120" y2="438.5" stroke="#000" stroke-width="1"/>
<line x1="116" y1="434.5" x2="120" y2="434.5" stroke="#000" stroke-width="1"/>
<line x1="116" y1="432.5" x2="120" y2="432.5" stroke="#000" stroke-width="1"/>
<line x1="116" y1="431.5" x2="120" y2="431.5" stroke="#000" stroke-width="1"/>
<line x1="116" y1="429.5" x2="120" y2="429.5" stroke="#000" stroke-width="1"/>
<line x1="116" y1="427.5" x2="120" y2="427.5" stroke="#000" stroke-width="1"/>
<line x1="116" y1="425.5" x2="120" y2="425.5" stroke="#000" stroke-width="1"/>
<line x1="116" y1="423.5" x2="120" y2="423.5" stroke="#000" stroke-width="1"/>
<line x1="116" y1="421.5" x2="120" y2="421.5" stroke="#000" stroke-width="1"/>
<line x1="116" y1="420.5" x2="120" y2="420.5" stroke="#000" stroke-width="1"/>
<line x1="116" y1="416.5" x2="120" y2="416.5" stroke="#000" stroke-width="1"/>
<line x1="116" y1="414.5" x2="120" y2="414.5" stroke="#000" stroke-width="1"/>
<line x1="116" y1="412.5" x2="120" y2="412.5" stroke="#000" stroke-width="1"/>
<line x1="116" y1="410.5" x2="120" y2="410.5" stroke="#000" stroke-width="1"/>
<line x1="116" y1="408.5" x2="120" y2="408.5" stroke="#000" stroke-width="1"/>
<line x1="116" y1="407.5" x2="120" y2="407.5" stroke="#000" stroke-width="1"/>
<line x1="116" y1="405.5" x2="120" y2="405.5" stroke="#000" stroke-width="1"/>
<line x1="116" y1="403.5" x2="120" y2="403.5" stroke="#000" stroke-width="1"/>
<line x1="116" y1="401.5" x2="120" y2="401.5" stroke="#000" stroke-width="1"/>
<line x1="116" y1="397.5" x2="120" y2="397.5" stroke="#000" stroke-width="1"/>
<line x1="116" y1="396.5" x2="120" y2="396.5" stroke="#000" stroke-width="1"/>
<line x1="116" y1="394.5" x2="120" y2="394.5" stroke="#000" stroke-width="1"/>
<line x1="116" y1="392.5" x2="120" y2="392.5" stroke="#000" stroke-width="1"/>
<line x1="116" y1="390.5" x2="120" y2="390.5" stroke="#000" stroke-width="1"/>
<line x1="116" y1="388.5" x2="120" y2="388.5" stroke="#000" stroke-width="1"/>
<line x1="116" y1="386.5" x2="120" y2="386.5" stroke="#000" stroke-width="1"/>
<line x1="116" y1="385.5" x2="120" y2="385.5" stroke="#000" stroke-width="1"/>
<line x1="116" y1="383.5" x2="120" y2="383.5" stroke="#000" stroke-width="1"/>
<line x1="116" y1="379.5" x2="120" y2="379.5" stroke="#000" stroke-width="1"/>
<line x1="116" y1="377.5" x2="120" y2="377.5" stroke="#000" stroke-width="1"/>
<line x1="116" y1="375.5" x2="120" y2="375.5" stroke="#000" stroke-width="1"/>
<line x1="116" y1="373.5" x2="120" y2="373.5" stroke="#000" stroke-width="1"/>
<line x1="116" y1="372.5" x2="120" y2="372.5" stroke="#000" stroke-width="1"/>
<line x1="116" y1="370.5" x2="120" y2="370.5" stroke="#000" stroke-width="1"/>
<line x1="116" y1="368.5" x2="120" y2="368.5" stroke="#000" stroke-width="1"/>
<line x1="116" y1="366.5" x2="120" y2="366.5" stroke="#000" stroke-width="1"/>
<line x1="116" y1="364.5" x2="120" y2="364.5" stroke="#000" stroke-width="1"/>
<line x1="116" y1="361.5" x2="120" y2="361.5" stroke="#000" stroke-width="1"/>
<line x1="116" y1="359.5" x2="120" y2="359.5" stroke="#000" stroke-width="1"/>
<line x1="116" y1="357.5" x2="120" y2="357.5" stroke="#000" stroke-width="1"/>
<line x1="116" y1="355.5" x2="120" y2="355.5" stroke="#000" stroke-width="1"/>
<line x1="116" y1="353.5" x2="120" y2="353.5" stroke="#000" stroke-width="1"/>
<line x1="116" y1="351.5" x2="120" y2="351.5" stroke="#000" stroke-width="1"/>
<line x1="116" y1="350.5" x2="120" y2="350.5" stroke="#000" stroke-width="1"/>
<line x1="116" y1="348.5" x2="120" y2="348.5" stroke="#000" stroke-width="1"/>
<line x1="116" y1="346.5" x2="120" y2="346.5" stroke="#000" stroke-width="1"/>
<line x1="116" y1="342.5" x2="120" y2="342.5" stroke="#000" stroke-width="1"/>
<line x1="116" y1="340.5" x2="120" y2="340.5" stroke="#000" stroke-width="1"/>
<line x1="116" y1="338.5" x2="120" y2="338.5" stroke="#000" stroke-width="1"/>
<line x1="112" y1="473.5" x2="120" y2="473.5" stroke="#000" stroke-width="1"/>
<text x="95.65 100.11" y="477.90" >-1</text>
<line x1="112" y1="455.5" x2="120" y2="455.5" stroke="#000" stroke-width="1"/>
<text x="100.17" y="459.90" >0</text>
<line x1="112" y1="436.5" x2="120" y2="436.5" stroke="#000" stroke-width="1"/>
<text x="100.11" y="440.90" >1</text>
<line x1="112" y1="418.5" x2="120" y2="418.5" stroke="#000" stroke-width="1"/>
<text x="100.02" y="422.90" >2</text>
<line x1="112" y1="399.5" x2="120" y2="399.5" stroke="#000" stroke-width="1"/>
<text x="100.17" y="403.90" >3</text>
<line x1="112" y1="381.5" x2="120" y2="381.5" stroke="#000" stroke-width="1"/>
<text x="100.22" y="385.90" >4</text>
<line x1="112" y1="362.5" x2="120" y2="362.5" stroke="#000" stroke-width="1"/>
<text x="100.12" y="366.90" >5</text>
<line x1="112" y1="344.5" x2="120" y2="344.5" stroke="#000" stroke-width="1"/>
<text x="100.17" y="348.90" >6</text>
<rect x="593" y="338" width="12" height="142" fill="url(#cb)"/>
<line x1="605.5" y1="338" x2="605.5" y2="481" stroke="#000" stroke-width="1"/>
<line x1="593" y1="480.5" x2="606" y2="480.5" stroke="#000" stroke-width="1"/>
<line x1="606" y1="476.5" x2="610" y2="476.5" stroke="#000" stroke-width="1"/>
<line x1="606" y1="474.5" x2="610" y2="474.5" stroke="#000" stroke-width="1"/>
<line x1="606" y1="472.5" x2="610" y2="472.5" stroke="#000" stroke-width="1"/>
<line x1="606" y1="470.5" x2="610" y2="470.5" stroke="#000" stroke-width="1"/>
<line x1="606" y1="468.5" x2="610" y2="468.5" stroke="#000" stroke-width="1"/>
<line x1="606" y1="467.5" x2="614" y2="467.5" stroke="#000" stroke-width="1"/>
<line x1="606" y1="457.5" x2="610" y2="457.5" stroke="#000" stroke-width="1"/>
<line x1="606" y1="451.5" x2="610" y2="451.5" stroke="#000" stroke-width="1"/>
<line x1="606" y1="447.5" x2="610" y2="447.5" stroke="#000" stroke-width="1"/>
<line x1="606" y1="444.5" x2="610" y2="444.5" stroke="#000" stroke-width="1"/>
<line x1="606" y1="442.5" x2="610" y2="442.5" stroke="#000" stroke-width="1"/>
<line x1="606" y1="439.5" x2="610" y2="439.5" stroke="#000" stroke-width="1"/>
<line x1="606" y1="437.5" x2="610" y2="437.5" stroke="#000" stroke-width="1"/>
<line x1="606" y1="436.5" x2="610" y2="436.5" stroke="#000" stroke-width="1"/>
<line x1="606" y1="434.5" x2="614" y2="434.5" stroke="#000" stroke-width="1"/>
<line x1="606" y1="425.5" x2="610" y2="425.5" stroke="#000" stroke-width="1"/>
<line x1="606" y1="419.5" x2="610" y2="419.5" stroke="#000" stroke-width="1"/>
<line x1="606" y1="415.5" x2="610" y2="415.5" stroke="#000" stroke-width="1"/>
<line x1="606" y1="412.5" x2="610" y2="412.5" stroke="#000" stroke-width="1"/>
<line x1="606" y1="409.5" x2="610" y2="409.5" stroke="#000" stroke-width="1"/>
<line x1="606" y1="407.5" x2="610" y2="407.5" stroke="#000" stroke-width="1"/>
<line x1="606" y1="405.5" x2="610" y2="405.5" stroke="#000" stroke-width="1"/>
<line x1="606" y1="404.5" x2="610" y2="404.5" stroke="#000" stroke-width="1"/>
<line x1="606" y1="402.5" x2="614" y2="402.5" stroke="#000" stroke-width="1"/>
<line x1="606" y1="392.5" x2="610" y2="392.5" stroke="#000" stroke-width="1"/>
<line x1="606" y1="387.5" x2="610" y2="387.5" stroke="#000" stroke-width="1"/>
<line x1="606" y1="383.5" x2="610" y2="383.5" stroke="#000" stroke-width="1"/>
<line x1="606" y1="380.5" x2="610" y2="380.5" stroke="#000" stroke-width="1"/>
<line x1="606" y1="377.5" x2="610" y2="377.5" stroke="#000" stroke-width="1"/>
<line x1="606" y1="375.5" x2="610" y2="375.5" stroke="#000" stroke-width="1"/>
<line x1="606" y1="373.5" x2="610" y2="373.5" stroke="#000" stroke-width="1"/>
<line x1="606" y1="371.5" x2="610" y2="371.5" stroke="#000" stroke-width="1"/>
<line x1="606" y1="370.5" x2="614" y2="370.5" stroke="#000" stroke-width="1"/>
<line x1="606" y1="360.5" x2="610" y2="360.5" stroke="#000" stroke-width="1"/>
<line x1="606" y1="354.5" x2="610" y2="354.5" stroke="#000" stroke-width="1"/>
<line x1="606" y1="350.5" x2="610" y2="350.5" stroke="#000" stroke-width="1"/>
<line x1="606" y1="347.5" x2="610" y2="347.5" stroke="#000" stroke-width="1"/>
<line x1="606" y1="345.5" x2="610" y2="345.5" stroke="#000" stroke-width="1"/>
<line x1="606" y1="343.5" x2="610" y2="343.5" stroke="#000" stroke-width="1"/>
<line x1="606" y1="341.5" x2="610" y2="341.5" stroke="#000" stroke-width="1"/>
<line x1="606" y1="339.5" x2="610" y2="339.5" stroke="#000" stroke-width="1"/>
<line x1="606" y1="338.5" x2="614" y2="338.5" stroke="#000" stroke-width="1"/>
</g>
<text x="617.25 624.95" y="474.80" >10</text>
<text x="633.12 637.58" y="468.60" >-1</text>
<text x="617.25 624.95" y="441.80" >10</text>
<text x="633.31" y="435.60" >0</text>
<text x="617.25 624.95" y="409.80" >10</text>
<text x="633.25" y="403.60" >1</text>
<text x="617.25 624.95" y="377.80" >10</text>
<text x="633.16" y="371.60" >2</text>
<text x="617.25 624.95" y="345.80" >10</text>
<text x="633.31" y="339.60" >3</text>
<text transform="translate(47.00,101.50) rotate(-90)" x="-7.68 0.53" y="0" >Kp</text>
<text transform="translate(58.40,103.20) rotate(-90)" x="-43.67 -38.55 -31.13 -27.12 -19.46 -15.59 -11.52 -2.61 6.36 11.55 20.51 24.58 32.37 39.85" y="0" >(e.g. 3+ = 33,</text>
<text transform="translate(71.00,104.30) rotate(-90)" x="-24.07 -16.62 -12.24 -7.19 1.64 5.54 13.23 20.59" y="0" >6- = 57,</text>
<text transform="translate(83.00,103.20) rotate(-90)" x="-37.35 -29.90 -24.85 -16.02 -12.02 -4.43 2.93 6.88 10.78 18.44 22.69 29.39 33.60" y="0" >4 = 40, etc.)</text>
<text transform="translate(71.20,255.00) rotate(-90)" x="-11.98 -3.13 4.61" y="0" >DST</text>
<text transform="translate(87.40,408.40) rotate(-90)" x="-35.45 -26.95 -22.16 -14.23 -9.57 -1.74 5.94 9.42 17.20 20.79 28.90" y="0" >Proton Flux</text>
</g>
</svg>
</body></html>
